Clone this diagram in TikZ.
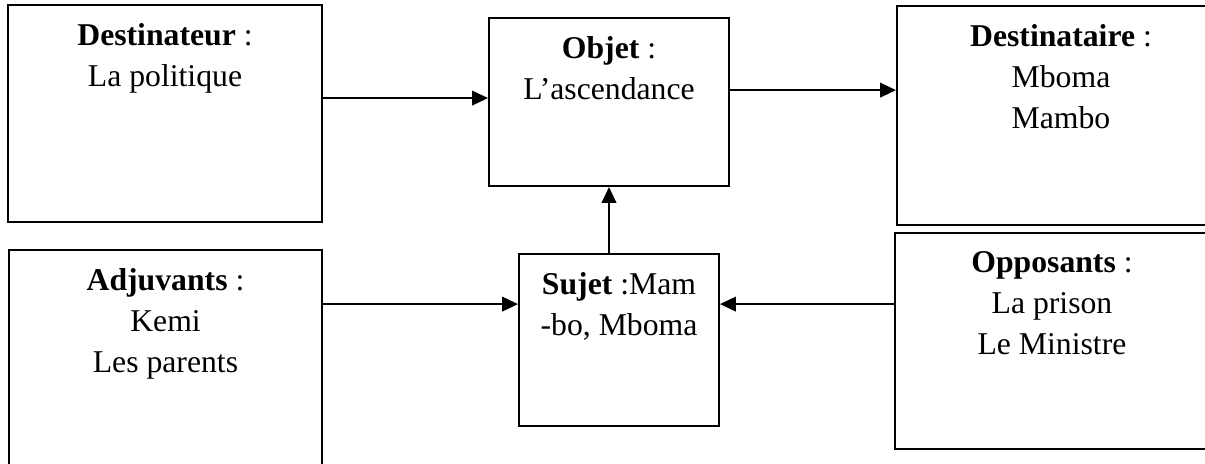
\documentclass[tikz,border=0pt]{standalone}
\usepackage{fontspec}
\setmainfont{Liberation Serif}
\usetikzlibrary{arrows.meta}

\begin{document}
\begin{tikzpicture}[
    x=0.3785pt, y=-0.3785pt,
    box/.style 2 args={draw, line width=0.75pt, inner sep=0pt,
      minimum width=#1*0.3785pt, minimum height=#2*0.3785pt},
    txt/.style={anchor=north, align=center, inner sep=0pt,
      font=\fontsize{12}{15.5}\selectfont},
    arrow/.style={-{Triangle[length=6pt,width=5.5pt]}, line width=0.75pt}
  ]
    \useasboundingbox (0,0) rectangle (1205,463);
    \clip (0,0) rectangle (1205,463);
    % cases du haut
    \node[box={314}{217}] (destinateur) at (165,113.5) {};
    \node[box={240}{168}] (objet) at (609,102) {};
    \node[box={328}{219}] (destinataire) at (1061,115.5) {};
    % cases du bas
    \node[box={313}{230}] (adjuvants) at (165.5,365) {};
    \node[box={200}{172}] (sujet) at (619,340) {};
    \node[box={314}{216}] (opposants) at (1052,341) {};
    % textes
    \node[txt] (destinateurtxt) at ([yshift=-7.35pt]destinateur.north)
      {\textbf{Destinateur} :\\La politique};
    \node[txt] (objettxt) at ([yshift=-7.35pt]objet.north)
      {\textbf{Objet} :\\L’ascendance};
    \node[txt] (destinatairetxt) at ([yshift=-7.35pt]destinataire.north)
      {\textbf{Destinataire} :\\Mboma\\Mambo};
    \node[txt] (adjuvantstxt) at ([yshift=-7.35pt]adjuvants.north)
      {\textbf{Adjuvants} :\\Kemi\\Les parents};
    \node[txt] (sujettxt) at ([yshift=-7.35pt]sujet.north)
      {\textbf{Sujet} :Mam\\-bo, Mboma};
    \node[txt] (opposantstxt) at ([yshift=-7.35pt]opposants.north)
      {\textbf{Opposants} :\\La prison\\Le Ministre};
    % fleches
    \coordinate (objin) at ([yshift=1.5pt]objet.west);
    \coordinate (objout) at ([yshift=4.5pt]objet.east);
    \coordinate (sujin) at ([yshift=13.6pt]sujet.west);
    \coordinate (sujinr) at ([yshift=13.6pt]sujet.east);
    \draw[arrow] (destinateur.east |- objin) -- (objin);
    \draw[arrow] (objout) -- (destinataire.west |- objout);
    \draw[arrow] (sujet.north -| objet.south) -- (objet.south);
    \draw[arrow] (adjuvants.east |- sujin) -- (sujin);
    \draw[arrow] (opposants.west |- sujinr) -- (sujinr);
  \end{tikzpicture}
\end{document}
